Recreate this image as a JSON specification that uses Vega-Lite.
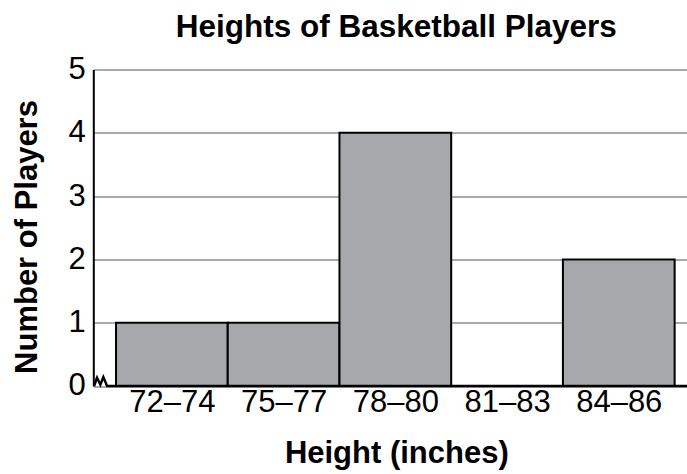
{
  "$schema": "https://vega.github.io/schema/vega-lite/v6.json",
  "width": 594,
  "height": 316.5,
  "autosize": {"type": "none"},
  "padding": {"left": 93.3, "top": 69.5, "right": 0, "bottom": 88},
  "background": "white",
  "config": {
    "view": {"stroke": null},
    "font": "Liberation Sans",
    "axis": {"labelFont": "Liberation Sans", "titleFont": "Liberation Sans", "labelColor": "black", "titleColor": "black"}
  },
  "title": {
    "text": "Heights of Basketball Players",
    "fontSize": 31.5,
    "fontWeight": "bold",
    "font": "Liberation Sans",
    "color": "black",
    "anchor": "middle",
    "baseline": "alphabetic",
    "dx": 6,
    "offset": 32,
    "dy": 47
  },
  "datasets": {
    "bars": [
      {"range": "72–74", "start": 71.5, "end": 74.5, "count": 1},
      {"range": "75–77", "start": 74.5, "end": 77.5, "count": 1},
      {"range": "78–80", "start": 77.5, "end": 80.5, "count": 4},
      {"range": "81–83", "start": 80.5, "end": 83.5, "count": 0},
      {"range": "84–86", "start": 83.5, "end": 86.5, "count": 2}
    ],
    "baseline": [
      {"x": 70.91, "y": 0},
      {"x": 70.99, "y": 0.13},
      {"x": 71.08, "y": 0.02},
      {"x": 71.16, "y": 0.14},
      {"x": 71.26, "y": 0},
      {"x": 86.84, "y": 0}
    ]
  },
  "layer": [
    {
      "data": {"name": "bars"},
      "transform": [{"filter": "datum.count > 0"}],
      "mark": {"type": "rect", "fill": "#a7a8ab", "stroke": "black", "strokeWidth": 2},
      "encoding": {
        "x": {
          "field": "start",
          "type": "quantitative",
          "scale": {"domain": [70.89, 86.84], "nice": false, "zero": false},
          "axis": {
            "title": "Height (inches)",
            "titleFontSize": 31,
            "titleFontWeight": "bold",
            "titleBaseline": "alphabetic",
            "titleX": 303,
            "titleY": 77,
            "titleAnchor": null,
            "domain": false,
            "ticks": false,
            "grid": false,
            "values": [73, 76, 79, 82, 85],
            "labelExpr": "(datum.value - 1) + '–' + (datum.value + 1)",
            "labelFontSize": 31,
            "labelPadding": 2
          }
        },
        "x2": {"field": "end"},
        "y": {
          "field": "count",
          "type": "quantitative",
          "scale": {"domain": [0, 5], "nice": false},
          "axis": {
            "title": "Number of Players",
            "titleFontSize": 31,
            "titleFontWeight": "bold",
            "titleBaseline": "alphabetic",
            "titleX": -57,
            "titleY": 167,
            "titleAngle": -90,
            "values": [0, 1, 2, 3, 4, 5],
            "format": "d",
            "domain": true,
            "domainColor": "black",
            "domainWidth": 2,
            "ticks": false,
            "grid": true,
            "gridColor": "#aaaaaa",
            "gridWidth": 2,
            "labelFontSize": 31,
            "labelPadding": 8
          }
        },
        "y2": {"datum": 0}
      }
    },
    {
      "data": {"name": "baseline"},
      "mark": {"type": "line", "color": "black", "strokeWidth": 2.5, "strokeJoin": "miter"},
      "encoding": {
        "x": {"field": "x", "type": "quantitative"},
        "y": {"field": "y", "type": "quantitative"}
      }
    }
  ]
}
